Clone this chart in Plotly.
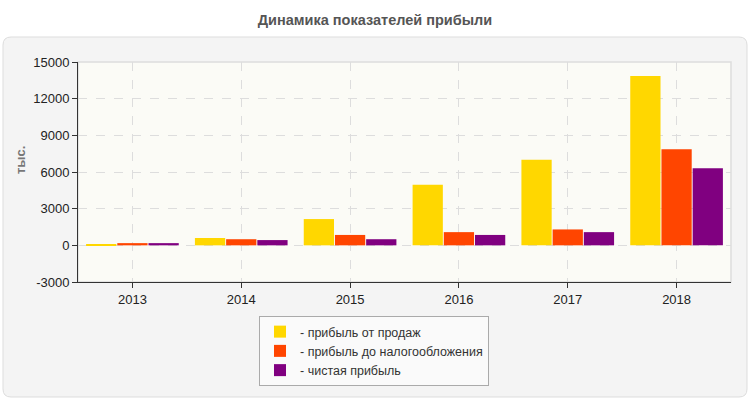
import plotly.graph_objects as go

years = ["2013", "2014", "2015", "2016", "2017", "2018"]
sales_profit = [100, 600, 2150, 4950, 7000, 13850]
pretax_profit = [180, 500, 850, 1080, 1300, 7870]
net_profit = [180, 430, 500, 850, 1080, 6300]
series_names = ["- прибыль от продаж", "- прибыль до налогообложения", "- чистая прибыль"]
colors = ["#FFD700", "#FF4500", "#800080"]
y_ticks = [-3000, 0, 3000, 6000, 9000, 12000, 15000]
y_tick_labels = ["-3000", "0", "3000", "6000", "9000", "12000", "15000"]

W, H = 750, 400
L, R, T, B = 78, 19, 62, 118
pw, ph = W - L - R, H - T - B

def px_x(x):
    return (x - L) / pw

def px_y(y):
    return (H - B - y) / ph

fig = go.Figure()
for name, vals, c in zip(series_names, [sales_profit, pretax_profit, net_profit], colors):
    fig.add_trace(go.Bar(x=years, y=vals, name=name,
                         marker=dict(color=c, line=dict(width=0))))

# rounded panel
x0, x1, y0, y1, r = 3, 747, 37, 397, 8
path = (f"M {px_x(x0+r)},{px_y(y0)} L {px_x(x1-r)},{px_y(y0)} "
        f"Q {px_x(x1)},{px_y(y0)} {px_x(x1)},{px_y(y0+r)} "
        f"L {px_x(x1)},{px_y(y1-r)} Q {px_x(x1)},{px_y(y1)} {px_x(x1-r)},{px_y(y1)} "
        f"L {px_x(x0+r)},{px_y(y1)} Q {px_x(x0)},{px_y(y1)} {px_x(x0)},{px_y(y1-r)} "
        f"L {px_x(x0)},{px_y(y0+r)} Q {px_x(x0)},{px_y(y0)} {px_x(x0+r)},{px_y(y0)} Z")
fig.add_shape(type="path", path=path, xref="paper", yref="paper",
              fillcolor="#f4f4f4", line=dict(color="#dddddd", width=1), layer="below")
# plot area background with light frame
fig.add_shape(type="rect", xref="paper", yref="paper", x0=0, x1=1, y0=0, y1=1,
              fillcolor="#fbfbf6", line=dict(color="#dddddd", width=1.5), layer="below")

fig.add_annotation(text="<b>тыс.</b>", xref="paper", yref="paper",
                   x=px_x(20), y=px_y(160), xanchor="center", yanchor="middle",
                   textangle=-90, showarrow=False,
                   font=dict(size=13, color="#777777"))

fig.update_layout(
    width=W, height=H,
    margin=dict(l=L, r=R, t=T, b=B),
    paper_bgcolor="white",
    plot_bgcolor="rgba(0,0,0,0)",
    font=dict(family="Liberation Sans, Arial, sans-serif", size=13, color="#333333"),
    title=dict(text="<b>Динамика показателей прибыли</b>", x=0.5, xanchor="center",
               y=1 - 20 / H, yanchor="middle",
               font=dict(size=14.5, color="#555555", family="Liberation Sans, Arial, sans-serif")),
    barmode="group", bargap=0.14, bargroupgap=0.03,
    showlegend=True,
    legend=dict(x=px_x(374), xanchor="center", y=px_y(316), yanchor="top",
                bgcolor="#fafafa", bordercolor="#aaaaaa", borderwidth=1,
                font=dict(size=12.5, color="#333333"), tracegroupgap=0,
                itemwidth=30),
    xaxis=dict(showline=True, linecolor="#333333", linewidth=1,
               showgrid=True, gridcolor="#dddddd", griddash="dash", gridwidth=1,
               ticks="outside", ticklen=5, tickcolor="#333333",
               tickfont=dict(size=13, color="#222222")),
    yaxis=dict(range=[-3000, 15000], tickvals=y_ticks, ticktext=y_tick_labels,
               showline=True, linecolor="#333333", linewidth=1,
               showgrid=True, gridcolor="#dddddd", griddash="dash", gridwidth=1,
               zeroline=False,
               ticks="outside", ticklen=5, tickcolor="#333333",
               tickfont=dict(size=13, color="#222222")),
)

fig.write_html("out.html", config={"displayModeBar": False},
               post_script="document.body.style.margin='0';")
